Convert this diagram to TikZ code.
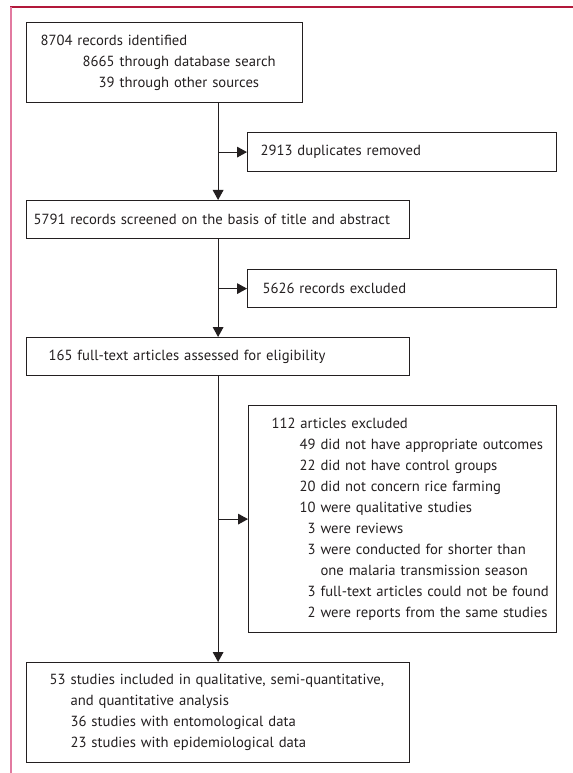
\documentclass[tikz,border=0pt]{standalone}
\usepackage{fontspec}
\setmainfont{PT Sans}
\usetikzlibrary{arrows.meta}
\definecolor{framered}{RGB}{178,24,58}
\definecolor{framepink}{RGB}{226,122,160}
\definecolor{ink}{RGB}{35,31,32}
\begin{document}
\begin{tikzpicture}[x=0.75pt,y=-0.75pt,
  box/.style={draw=ink, line width=0.9pt, rectangle, anchor=north west, inner ysep=0pt, align=left,
    text=ink, font=\fontsize{11}{15.7}\selectfont},
  arr/.style={draw=ink, line width=0.85pt, -{Triangle[length=7.5pt,width=8pt]}}]
\useasboundingbox (0,0) rectangle (573,773);
\draw[framered, line width=1.2pt] (10,7) -- (573,7);
\draw[framepink, line width=1.5pt] (10.5,7) -- (10.5,773);

\node[box, minimum width=207pt, minimum height=60pt, inner xsep=10.5pt, text width=186pt] (b1) at (26,22)
  {\mbox{8704 records identified}\\
   \mbox{\hspace*{59.25pt}\llap{8665\ }through database search}\\
   \mbox{\hspace*{59.25pt}\llap{39\ }through other sources}};

\node[box, minimum width=231.75pt, minimum height=29.25pt, inner xsep=9.75pt, text width=212.25pt] (b2) at (247,132)
  {\mbox{2913 duplicates removed}};

\node[box, minimum width=287.25pt, minimum height=28.5pt, inner xsep=5.25pt, text width=276.75pt] (b3) at (26,200)
  {\mbox{5791 records screened on the basis of title and abstract}};

\node[box, minimum width=231.75pt, minimum height=28.5pt, inner xsep=11.25pt, text width=209.25pt] (b4) at (247,269)
  {\mbox{5626 records excluded}};

\node[box, minimum width=287.25pt, minimum height=28.5pt, inner xsep=16.5pt, text width=254.25pt] (b5) at (26,337)
  {\mbox{165 full-text articles assessed for eligibility}};

\node[box, minimum width=231pt, minimum height=170.25pt, inner xsep=17.25pt, text width=196.5pt] (b6) at (248,405)
  {\mbox{112 articles excluded}\\
   \mbox{\hspace*{36.75pt}\llap{49\ }did not have appropriate outcomes}\\
   \mbox{\hspace*{36.75pt}\llap{22\ }did not have control groups}\\
   \mbox{\hspace*{36.75pt}\llap{20\ }did not concern rice farming}\\
   \mbox{\hspace*{36.75pt}\llap{10\ }were qualitative studies}\\
   \mbox{\hspace*{36.75pt}\llap{3\ }were reviews}\\
   \mbox{\hspace*{36.75pt}\llap{3\ }were conducted for shorter than}\\
   \mbox{\hspace*{36.75pt}one malaria transmission season}\\
   \mbox{\hspace*{36.75pt}\llap{3\ }full-text articles could not be found}\\
   \mbox{\hspace*{36.75pt}\llap{2\ }were reports from the same studies}};

\node[box, minimum width=287.25pt, minimum height=75pt, inner xsep=33pt, text width=221.25pt] (b7) at (26,662)
  {\mbox{\llap{53\ }studies included in qualitative, semi-quantitative,}\\
   \mbox{and quantitative analysis}\\
   \mbox{36 studies with entomological data}\\
   \mbox{23 studies with epidemiological data}};

\draw[arr] (b1.south -| b3.north) -- (b3.north);
\draw[arr] (b2.west -| b3.north) -- (b2.west);
\draw[arr] (b3.south) -- (b5.north);
\draw[arr] (b4.west -| b3.north) -- (b4.west);
\draw[arr] (b5.south) -- (b7.north);
\draw[arr] (b6.west -| b5.south) -- (b6.west);
\end{tikzpicture}
\end{document}
